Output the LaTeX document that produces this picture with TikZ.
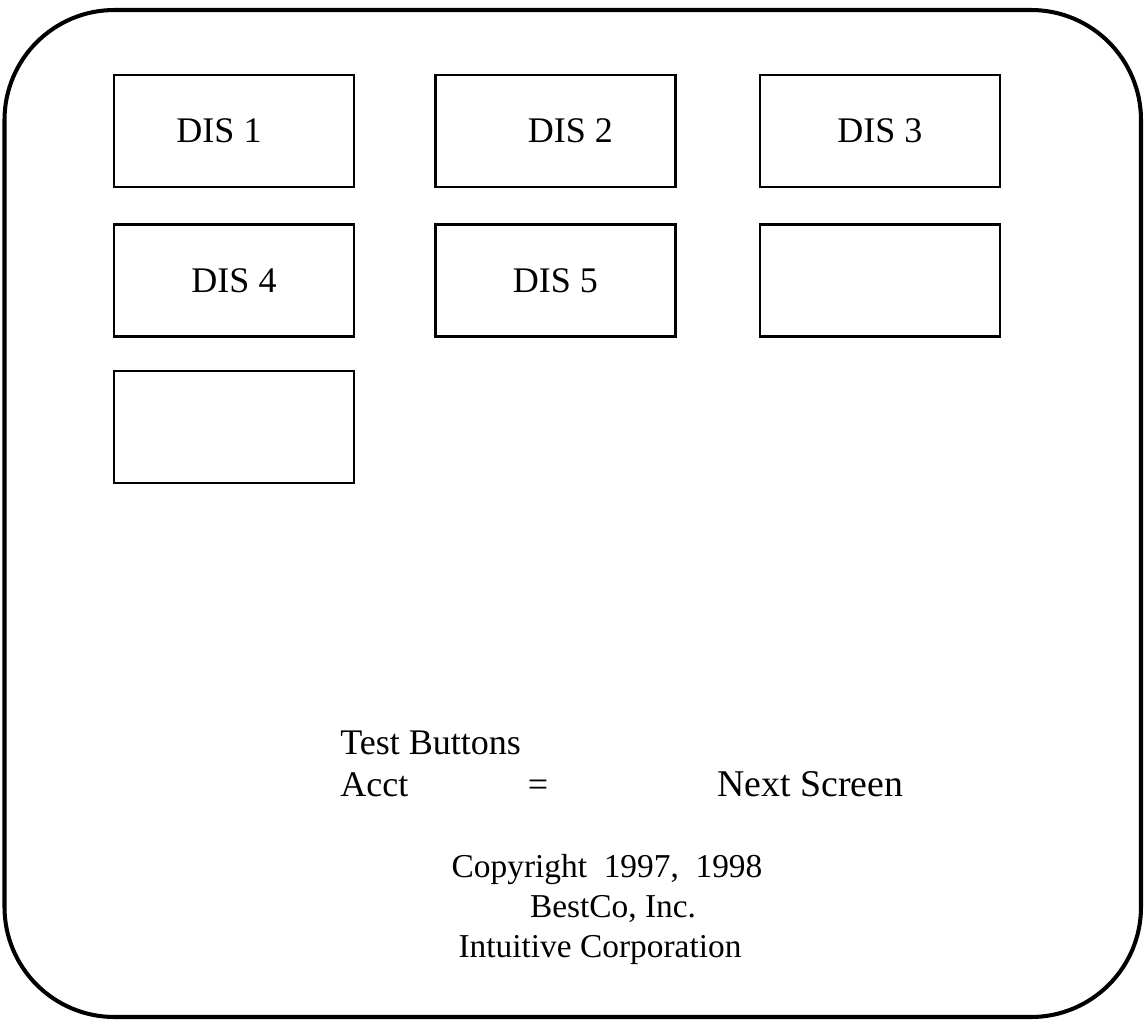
\documentclass[tikz,border=0pt]{standalone}
\usepackage{fontspec}
\setmainfont{Liberation Serif}
\usepackage{tikz}
\usetikzlibrary{positioning}

\begin{document}
\begin{tikzpicture}[
    disbox/.style={draw, line width=1.4pt, minimum width=4.8cm, minimum height=2.24cm, inner sep=0pt, font=\fontsize{20.5}{24}\selectfont},
    txt/.style={inner sep=0pt, font=\fontsize{20.5}{24}\selectfont},
    small/.style={inner sep=0pt, font=\fontsize{19}{22}\selectfont}
]
\useasboundingbox (0,0) rectangle (22.88,-20.44);

\draw[line width=2.3pt, rounded corners=2.2cm] (0.09,-0.2) rectangle (22.82,-20.34);

\node[disbox] (dis1) at (4.68,-2.62) {DIS 1\kern0.6cm};
\node[disbox, right=1.58cm of dis1] (dis2) {\hspace{0.6cm}DIS 2};
\node[disbox, right=1.64cm of dis2] (dis3) {DIS 3};
\node[disbox, below=0.7cm of dis1] (dis4) {DIS 4};
\node[disbox, below=0.7cm of dis2] (dis5) {DIS 5};
\node[disbox, below=0.7cm of dis3] (blank6) {};
\node[disbox, below=0.64cm of dis4] (blank7) {};

\node[txt, anchor=base west] (testbtn) at (6.8,-15.08) {Test Buttons};
\node[txt, anchor=base west] (acct) at (6.8,-15.92) {Acct};
\node[txt, anchor=base] (eq) at (10.76,-15.92) {=};
\node[txt, anchor=base west, font=\fontsize{21.5}{24}\selectfont] (nextscr) at (14.34,-15.92) {Next Screen};

\node[small, anchor=base] (copy) at (12.14,-17.54) {Copyright\ \ 1997,\ \ 1998};
\node[small, anchor=base] (bestco) at (12.26,-18.34) {BestCo, Inc.};
\node[small, anchor=base] (intuit) at (12.0,-19.14) {Intuitive Corporation};

\end{tikzpicture}
\end{document}
